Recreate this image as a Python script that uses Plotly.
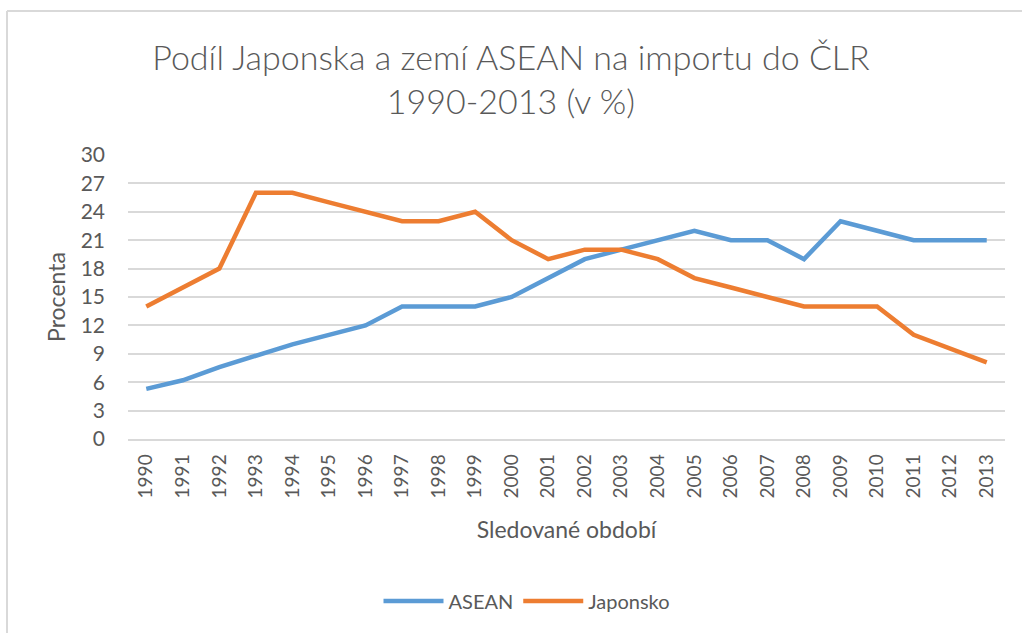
import plotly.graph_objects as go

years = [str(y) for y in range(1990, 2014)]
asean = [5.3, 6.2, 7.6, 8.8, 10.0, 11.0, 12.0, 14.0, 14.0, 14.0, 15.0, 17.0,
         19.0, 20.0, 21.0, 22.0, 21.0, 21.0, 19.0, 23.0, 22.0, 21.0, 21.0, 21.0]
japonsko = [14.0, 16.0, 18.0, 26.0, 26.0, 25.0, 24.0, 23.0, 23.0, 24.0, 21.0, 19.0,
            20.0, 20.0, 19.0, 17.0, 16.0, 15.0, 14.0, 14.0, 14.0, 11.0, 9.5, 8.1]
y_ticks = list(range(0, 31, 3))

FONT = "Lato"
GREY = "#595959"

fig = go.Figure()
fig.add_trace(go.Scatter(x=years, y=asean, name="ASEAN", mode="lines",
                         line=dict(color="#5B9BD5", width=4.5)))
fig.add_trace(go.Scatter(x=years, y=japonsko, name="Japonsko", mode="lines",
                         line=dict(color="#ED7D31", width=4.5)))

fig.update_layout(
    width=1022, height=633,
    margin=dict(l=128, r=17, t=155, b=194, autoexpand=False),
    paper_bgcolor="white", plot_bgcolor="white",
    font=dict(family=FONT, color=GREY),
    title=dict(text="Podíl Japonska a zemí ASEAN na importu do ČLR<br>1990-2013 (v %)",
               x=0.5, xanchor="center", y=1 - 70 / 633, yanchor="middle",
               font=dict(size=34, color=GREY, family=FONT, weight=300)),
    xaxis=dict(type="category", tickangle=-90, tickfont=dict(size=19, color=GREY),
               showgrid=False, showline=True, linecolor="#D9D9D9", linewidth=1.5,
               title=dict(text="Sledované období", font=dict(size=23, color=GREY), standoff=24),
               range=[-0.5, 23.5], ticks="", ticklabelstandoff=6),
    yaxis=dict(range=[0, 30], tickvals=y_ticks, tickfont=dict(size=21, color=GREY),
               showgrid=True, gridcolor="#D9D9D9", gridwidth=1.5, zeroline=False,
               title=dict(text="Procenta", font=dict(size=23, color=GREY), standoff=8),
               ticks="", ticklabelstandoff=22),
    legend=dict(orientation="h", xref="container", x=527 / 1022, xanchor="center",
                y=-(601 - 439) / 284, yanchor="middle",
                font=dict(size=20, color=GREY), itemwidth=60),
    showlegend=True,
)
fig.add_shape(type="line", xref="paper", yref="paper",
              x0=(7 - 128) / 877, x1=(1022 - 128) / 877,
              y0=(633 - 194 - 11) / 284, y1=(633 - 194 - 11) / 284,
              line=dict(color="#D9D9D9", width=2))
fig.add_shape(type="line", xref="paper", yref="paper",
              x0=(7 - 128) / 877, x1=(7 - 128) / 877,
              y0=(633 - 194 - 11) / 284, y1=-194 / 284,
              line=dict(color="#D9D9D9", width=2))

fig.write_html("out.html", config={"displayModeBar": False},
               post_script="document.body.style.margin='0';document.body.style.overflow='hidden';")
